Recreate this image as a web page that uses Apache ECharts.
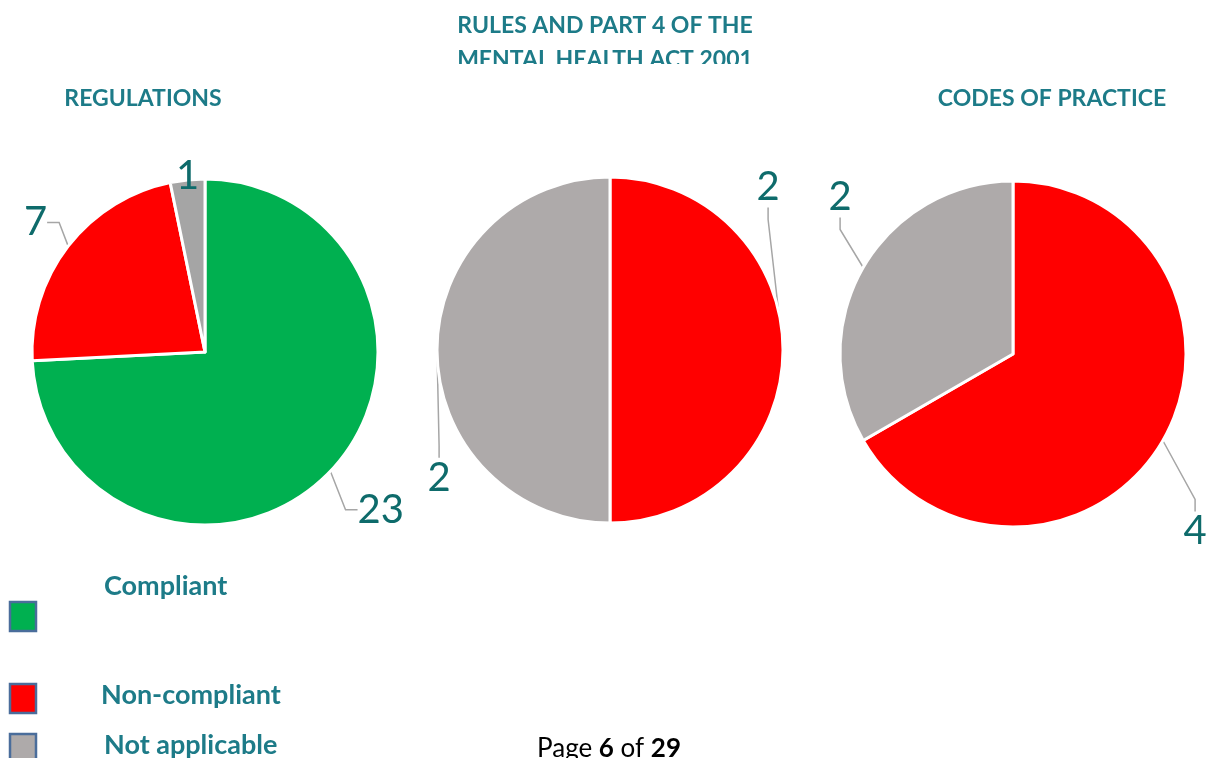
<!DOCTYPE html>
<html>
<head>
<meta charset="utf-8">
<script src="https://cdn.jsdelivr.net/npm/echarts@6/dist/echarts.min.js"></script>
<style>
  html, body { margin: 0; padding: 0; background: #fff; }
  #main { width: 1210px; height: 758px; }
</style>
</head>
<body>
<div id="main"></div>
<script>
// data
var categories = ['Compliant', 'Non-compliant', 'Not applicable'];
var regulations = [23, 7, 1];
var rulesPart4 = [0, 2, 2];
var codesOfPractice = [0, 4, 2];
var chartTitles = ['REGULATIONS', 'RULES AND PART 4 OF THE\nMENTAL HEALTH ACT 2001', 'CODES OF PRACTICE'];
var pageNo = 6, pageCount = 29;

var colors = ['#00b050', '#ff0000', '#aeaaaa'];
var teal = '#1d7b88';
var labelTeal = '#0e6b6b';
var font = 'Lato';

var myChart = echarts.init(document.getElementById('main'));

function pieData(values, grey) {
    var out = [];
    values.forEach(function (v, i) {
        if (v > 0) {
            out.push({
                name: categories[i],
                value: v,
                itemStyle: { color: (i === 2 && grey) ? grey : colors[i] }
            });
        }
    });
    return out;
}

function pieSeries(values, center, grey, extra) {
    var s = {
        type: 'pie',
        center: center,
        radius: 173,
        startAngle: 90,
        clockwise: true,
        avoidLabelOverlap: false,
        silent: true,
        itemStyle: { borderColor: '#fff', borderWidth: 3 },
        label: {
            show: true,
            position: 'outside',
            formatter: '{c}',
            fontFamily: font,
            fontSize: 40,
            color: labelTeal
        },
        labelLine: {
            show: true,
            length: 14,
            length2: 12,
            lineStyle: { color: '#a6a6a6', width: 1.5 }
        },
        data: pieData(values, grey)
    };
    return Object.assign(s, extra || {});
}

// the labels were nudged by hand in the source, so shift them a bit
var pie1Nudge = [[0, 29], [7, -15], [30, 10]];

var titleStyle = { color: teal, fontFamily: font, fontWeight: 'bold', fontSize: 23 };

var option = {
    animation: false,
    title: [
        { text: chartTitles[0], left: 138, top: 81, textAlign: 'center',
          textStyle: Object.assign({ lineHeight: 26 }, titleStyle) },
        { text: chartTitles[1], left: 600, top: 4, textAlign: 'center',
          textStyle: Object.assign({ lineHeight: 34 }, titleStyle) },
        { text: chartTitles[2], left: 1047, top: 81, textAlign: 'center',
          textStyle: Object.assign({ lineHeight: 26 }, titleStyle) }
    ],
    series: [
        pieSeries(regulations, [205, 352], '#a5a5a5', {
            labelLayout: function (p) {
                var n = pie1Nudge[p.dataIndex];
                return { x: p.labelRect.x + n[0], y: p.labelRect.y + n[1], align: 'left', verticalAlign: 'top' };
            }
        }),
        pieSeries(rulesPart4, [610, 350], null, {
            labelLayout: function (p) {
                if (p.dataIndex === 0) {
                    return { x: p.rect.x + p.rect.width - 28, y: p.rect.y - 8, align: 'left', verticalAlign: 'top' };
                }
                return { x: p.rect.x - 8, y: p.rect.y + p.rect.height * 0.8 + 3, align: 'left', verticalAlign: 'top' };
            }
        }),
        pieSeries(codesOfPractice, [1013, 354], null, {
            labelLayout: function (p) {
                if (p.dataIndex === 0) {
                    return { x: p.rect.x + p.rect.width - 4, y: p.rect.y + p.rect.height - 17, align: 'left', verticalAlign: 'top' };
                }
                return { x: p.rect.x - 10, y: p.rect.y - 2, align: 'left', verticalAlign: 'top' };
            }
        })
    ],
    graphic: []
};
// "1" in the first pie has no leader line
option.series[0].data[2].labelLine = { show: false };

// clip the second title line like the source page does
option.graphic.push({
    type: 'rect', z: 100, silent: true,
    shape: { x: 420, y: 64, width: 380, height: 16 },
    style: { fill: '#fff' }
});

// legend drawn by hand: boxes and labels sit apart in the source
var legendBoxY = [602, 684, 734];
var legendTextY = [586, 695, 745];
categories.forEach(function (name, i) {
    option.graphic.push({
        type: 'rect', z: 10, silent: true,
        shape: { x: 10, y: legendBoxY[i], width: 26, height: 29 },
        style: { fill: colors[i], stroke: '#4a6d9b', lineWidth: 2.5 }
    });
    option.graphic.push({
        type: 'text', z: 10, silent: true,
        x: i === 1 ? 101 : 104, y: legendTextY[i],
        style: {
            text: name, fill: teal, font: 'bold 27px ' + font,
            textAlign: 'left', textVerticalAlign: 'middle'
        }
    });
});

option.graphic.push({
    type: 'text', z: 10, silent: true,
    x: 609, y: 749,
    style: {
        text: 'Page {b|' + pageNo + '} of {b|' + pageCount + '}',
        fill: '#000', font: '26px ' + font,
        textAlign: 'center', textVerticalAlign: 'middle',
        rich: { b: { fontWeight: 'bold', fontSize: 26, fontFamily: font, fill: '#000' } }
    }
});

myChart.setOption(option);
</script>
</body>
</html>
